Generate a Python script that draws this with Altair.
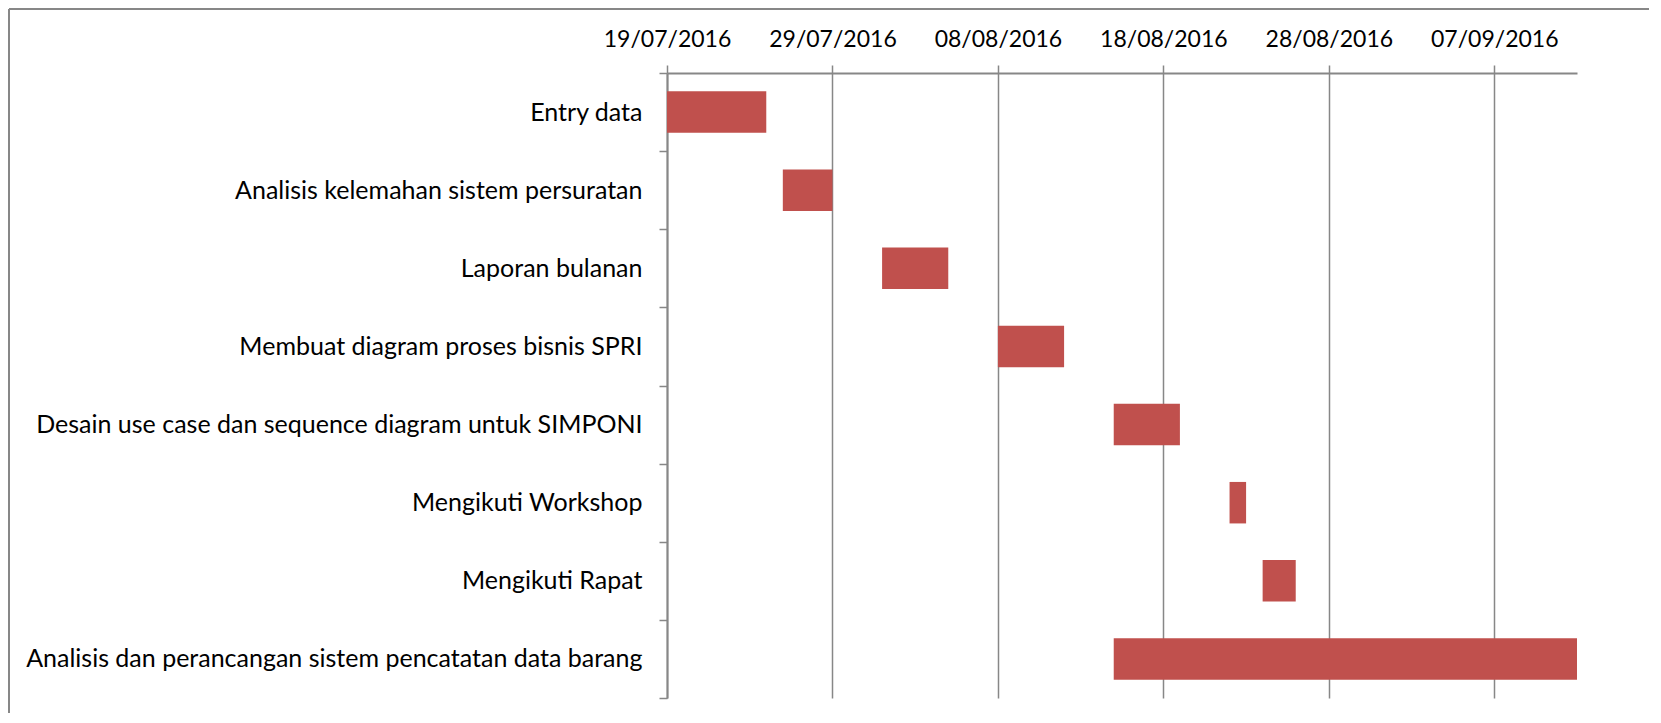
import altair as alt
import pandas as pd

tasks = [
    "Entry data",
    "Analisis kelemahan sistem persuratan",
    "Laporan bulanan",
    "Membuat diagram proses bisnis SPRI",
    "Desain use case dan sequence diagram untuk SIMPONI",
    "Mengikuti Workshop",
    "Mengikuti Rapat",
    "Analisis dan perancangan sistem pencatatan data barang",
]
starts = ["2016-07-19", "2016-07-26", "2016-08-01", "2016-08-08",
          "2016-08-15", "2016-08-22", "2016-08-24", "2016-08-15"]
ends = ["2016-07-25", "2016-07-29", "2016-08-05", "2016-08-12",
        "2016-08-19", "2016-08-23", "2016-08-26", "2016-09-12"]
tick_dates = [(2016, 7, 19), (2016, 7, 29), (2016, 8, 8),
              (2016, 8, 18), (2016, 8, 28), (2016, 9, 7)]
domain_dates = [(2016, 7, 19), (2016, 9, 12)]

df = pd.DataFrame({"task": tasks, "start": starts, "end": ends})

FONT = "Lato"
GRID = "#878787"
W, H = 910, 625
PL, PT, PR, PB = 659, 65, 72, 15


def dt(t):
    return alt.DateTime(year=t[0], month=t[1], date=t[2], utc=True)


bars = alt.Chart(df).mark_bar(color="#C0504D", size=41.5).encode(
    x=alt.X(
        "start:T",
        title=None,
        scale=alt.Scale(type="utc", domain=[dt(d) for d in domain_dates], nice=False),
        axis=alt.Axis(
            orient="top",
            values=[dt(d) for d in tick_dates],
            format="%d/%m/%Y",
            labelFont=FONT,
            labelFontSize=23,
            labelColor="#000000",
            labelPadding=26,
            labelBaseline="middle",
            tickSize=8,
            tickColor=GRID,
            tickWidth=1.5,
            domainColor=GRID,
            domainWidth=2,
            grid=True,
            gridColor=GRID,
            gridWidth=1.5,
            labelFlush=False,
        ),
    ),
    x2="end:T",
    y=alt.Y(
        "task:N",
        title=None,
        sort=tasks,
        scale=alt.Scale(paddingInner=0, paddingOuter=0),
        axis=alt.Axis(
            orient="left",
            labelFont=FONT,
            labelFontSize=25,
            labelColor="#000000",
            labelPadding=17,
            labelLimit=0,
            tickSize=8,
            tickBand="extent",
            tickColor=GRID,
            tickWidth=1.5,
            domainColor=GRID,
            domainWidth=2,
            grid=False,
        ),
    ),
)

frame_left = alt.Chart(df).mark_rule(color=GRID, strokeWidth=2).encode(
    x=alt.value(-PL + 1), y=alt.value(-PT + 1), y2=alt.value(H + PB)
)
frame_top = alt.Chart(df).mark_rule(color=GRID, strokeWidth=2).encode(
    x=alt.value(-PL + 1), x2=alt.value(W + PR), y=alt.value(-PT + 1)
)

chart = alt.layer(bars, frame_left, frame_top).properties(
    width=W,
    height=H,
    padding={"left": PL, "top": PT, "right": PR, "bottom": PB},
    autosize=alt.AutoSizeParams(type="none"),
    background="#ffffff",
).configure_view(strokeWidth=0)

chart.save("out.html", embed_options={"renderer": "svg", "actions": False})
